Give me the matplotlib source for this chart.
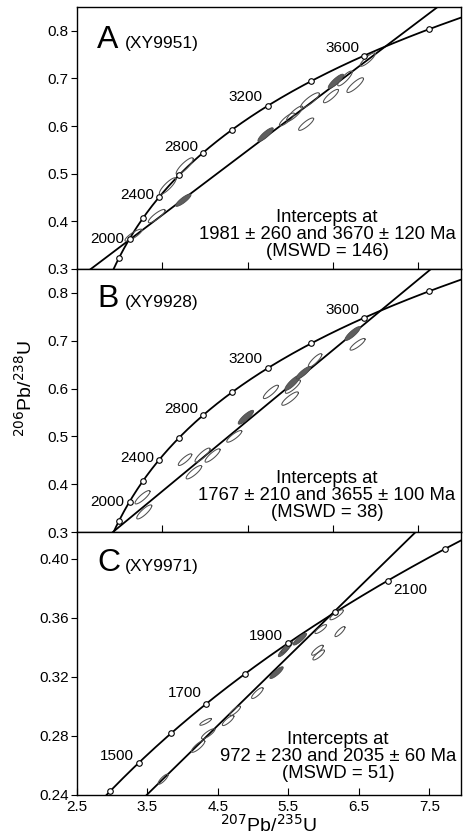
import numpy as np
import matplotlib
matplotlib.use("Agg")
import matplotlib.pyplot as plt

plt.rcParams['font.family'] = ['Liberation Sans', 'DejaVu Sans']

# decay constants (per Ma)
L238 = 1.55125e-4
L235 = 9.8485e-4

# ---------- panel data ----------
names = ["A", "B", "C"]
samples = ["(XY9951)", "(XY9928)", "(XY9971)"]
intercept_txt = ["Intercepts at\n1981 \u00b1 260 and 3670 \u00b1 120 Ma\n(MSWD = 146)",
                 "Intercepts at\n1767 \u00b1 210 and 3655 \u00b1 100 Ma\n(MSWD = 38)",
                 "Intercepts at\n972 \u00b1 230 and 2035 \u00b1 60 Ma\n(MSWD = 51)"]
# discordia as drawn (lower, upper intercept age, Ma)
disc_ages = [(1981, 3670), (1700, 3655), (815, 1990)]

# concordia age marks and labelled ages
marks_ab = [1800, 2000, 2200, 2400, 2600, 2800, 3000, 3200, 3400, 3600, 3800]
labels_ab = [2000, 2400, 2800, 3200, 3600]
marks_c = [1400, 1500, 1600, 1700, 1800, 1900, 2000, 2100, 2200]
labels_c = [1500, 1700, 1900, 2100]

# ellipses: 207Pb/235U, 206Pb/238U, half extents, rho, filled
a_x = [6.62, 9.34, 12.46, 10.63, 12.62, 22.1, 24.6, 25.5, 27.3, 26.85, 30.34, 31.4, 29.76, 32.6, 34.06]
a_y = [0.371, 0.411, 0.4445, 0.474, 0.516, 0.582, 0.614, 0.626, 0.654, 0.604, 0.694, 0.700, 0.663, 0.686, 0.7396]
a_sx = [1.0, 0.98, 0.9, 0.98, 1.0, 0.9, 0.88, 0.95, 1.1, 0.88, 0.9, 0.85, 0.88, 0.97, 0.88]
a_sy = [0.0126, 0.014, 0.013, 0.0175, 0.0175, 0.0145, 0.0135, 0.016, 0.016, 0.013, 0.015, 0.0155, 0.014, 0.0155, 0.014]
a_rho = [0.86, 0.86, 0.86, 0.86, 0.86, 0.86, 0.86, 0.86, 0.86, 0.86, 0.86, 0.86, 0.86, 0.86, 0.86]
a_fill = [0, 0, 1, 0, 0, 1, 0, 0, 0, 0, 1, 0, 0, 0, 0]

b_x = [7.68, 7.88, 12.66, 13.7, 14.71, 15.89, 18.43, 19.79, 22.72, 25.26, 26.53, 25.3, 24.97, 27.9, 32.3, 32.88]
b_y = [0.3727, 0.342, 0.4513, 0.425, 0.4608, 0.46, 0.50, 0.540, 0.593, 0.612, 0.633, 0.604, 0.579, 0.659, 0.715, 0.6925]
b_sx = [0.88, 0.88, 0.79, 0.91, 0.88, 0.88, 0.88, 0.9, 0.88, 0.9, 0.85, 0.88, 0.97, 0.79, 0.9, 0.88]
b_sy = [0.014, 0.0147, 0.0122, 0.014, 0.0147, 0.014, 0.0122, 0.0145, 0.014, 0.0157, 0.013, 0.014, 0.014, 0.014, 0.0145, 0.0122]
b_rho = [0.86, 0.86, 0.86, 0.86, 0.86, 0.86, 0.86, 0.86, 0.86, 0.86, 0.86, 0.86, 0.86, 0.86, 0.86, 0.86]
b_fill = [0, 0, 0, 0, 0, 0, 0, 1, 0, 1, 1, 0, 0, 0, 1, 0]

c_x = [3.722, 4.219, 4.361, 4.325, 4.645, 4.744, 5.060, 5.332, 5.439, 5.48, 5.663, 5.912, 5.93, 5.959, 6.232, 6.185]
c_y = [0.2507, 0.2729, 0.2814, 0.2895, 0.2904, 0.297, 0.309, 0.3228, 0.3376, 0.340, 0.3455, 0.338, 0.3348, 0.3523, 0.3506, 0.362]
c_sx = [0.071, 0.095, 0.095, 0.082, 0.082, 0.076, 0.082, 0.095, 0.082, 0.082, 0.095, 0.082, 0.082, 0.082, 0.071, 0.095]
c_sy = [0.0034, 0.0040, 0.0034, 0.0023, 0.0034, 0.0032, 0.0037, 0.0040, 0.0040, 0.0040, 0.0040, 0.0034, 0.0034, 0.0030, 0.0034, 0.0034]
c_rho = [0.84, 0.84, 0.84, 0.84, 0.84, 0.84, 0.84, 0.86, 0.86, 0.86, 0.86, 0.84, 0.84, 0.84, 0.84, 0.84]
c_fill = [0, 0, 0, 0, 0, 0, 0, 1, 1, 1, 1, 0, 0, 0, 0, 0]

ells = [(a_x, a_y, a_sx, a_sy, a_rho, a_fill),
        (b_x, b_y, b_sx, b_sy, b_rho, b_fill),
        (c_x, c_y, c_sx, c_sy, c_rho, c_fill)]


def concordia(t):
    return np.expm1(L235 * np.asarray(t, float)), np.expm1(L238 * np.asarray(t, float))


def ellipse_xy(x, y, sx, sy, rho, n=80):
    th = np.linspace(0, 2 * np.pi, n)
    ex = x + sx * np.cos(th)
    ey = y + sy * (rho * np.cos(th) + np.sqrt(1 - rho ** 2) * np.sin(th))
    return ex, ey


fig = plt.figure(figsize=(4.63, 8.4), dpi=100)
W, H = 463.0, 840.0
left, right = 77 / W, 461 / W
tops = [7, 269, 532]
bots = [269, 532, 795]
axes = []
for i in range(3):
    ax = fig.add_axes([left, 1 - bots[i] / H, right - left, (bots[i] - tops[i]) / H])
    axes.append(ax)

xlims = [(0, 45), (0, 45), (2.5, 7.95)]
ylims = [(0.3, 0.85), (0.3, 0.85), (0.24, 0.418)]
t_ranges = [(1500, 4100), (1500, 4100), (1200, 2300)]

for i, ax in enumerate(axes):
    ax.set_xlim(*xlims[i])
    ax.set_ylim(*ylims[i])
    # concordia
    tt = np.linspace(t_ranges[i][0], t_ranges[i][1], 400)
    cx, cy = concordia(tt)
    ax.plot(cx, cy, color="black", lw=1.3, zorder=3)
    mk = marks_ab if i < 2 else marks_c
    mx, my = concordia(mk)
    ax.plot(mx, my, "o", ms=4, mfc="white", mec="black", mew=0.8, zorder=6)
    # discordia
    dx, dy = concordia(disc_ages[i])
    slope = (dy[1] - dy[0]) / (dx[1] - dx[0])
    xx = np.array(xlims[i])
    ax.plot(xx, dy[0] + slope * (xx - dx[0]), color="black", lw=1.3, zorder=3)
    # ellipses
    ex_, ey_, sx_, sy_, rh_, fl_ = ells[i]
    for k in range(len(ex_)):
        px, py = ellipse_xy(ex_[k], ey_[k], sx_[k], sy_[k], rh_[k])
        if fl_[k]:
            ax.fill(px, py, facecolor="#5e5e5e", edgecolor="#4a4a4a", lw=0.6, zorder=5)
        else:
            ax.plot(px, py, color="#4f4f4f", lw=0.75, zorder=4)
    # age labels
    labs = labels_ab if i < 2 else labels_c
    for a in labs:
        lx, ly = concordia(a)
        if a == 2100:
            ax.annotate(str(a), (lx, ly), xytext=(5, -9), textcoords="offset pixels",
                        ha="left", va="center", fontsize=11, zorder=7)
        else:
            off = {2000: 0, 2400: 2, 2800: 6, 3200: 9, 3600: 8, 1500: 7, 1700: 11, 1900: 7}[a]
            ax.annotate(str(a), (lx, ly), xytext=(-5, off), textcoords="offset pixels",
                        ha="right", va="center", fontsize=11, zorder=7)
    # titles
    ty = [0.843, 0.856, 0.852][i]
    ax.text(0.052, ty, names[i], transform=ax.transAxes, fontsize=23, va="baseline", ha="left")
    ax.text(0.125, ty, samples[i], transform=ax.transAxes, fontsize=12.5, va="baseline", ha="left")
    tx = [0.651, 0.651, 0.68][i]
    tyy = [0.13, 0.137, 0.145][i]
    ax.text(tx, tyy, intercept_txt[i], transform=ax.transAxes, fontsize=13.3,
            ha="center", va="center", multialignment="center", linespacing=1.0)
    # ticks
    ax.tick_params(axis="y", direction="out", length=4, width=0.8, labelsize=11, pad=2)
    ax.tick_params(axis="x", direction="in", length=5, width=0.8, labelsize=11)
    for s in ax.spines.values():
        s.set_linewidth(1.0)

for ax in axes[:2]:
    ax.set_xticks([10, 20, 30, 40])
    ax.set_xticklabels([])
    ax.set_yticks([0.3, 0.4, 0.5, 0.6, 0.7, 0.8])
    ax.set_yticklabels(["0.3", "0.4", "0.5", "0.6", "0.7", "0.8"])

axes[2].set_xticks([2.5, 3.5, 4.5, 5.5, 6.5, 7.5])
axes[2].set_xticklabels(["2.5", "3.5", "4.5", "5.5", "6.5", "7.5"])
axes[2].set_yticks([0.24, 0.28, 0.32, 0.36, 0.40])
axes[2].set_yticklabels(["0.24", "0.28", "0.32", "0.36", "0.40"])
axes[2].set_xlabel(r"$^{207}$Pb/$^{235}$U", fontsize=14, labelpad=0)

fig.text(25 / W, 1 - 388 / H, r"$^{206}$Pb/$^{238}$U", rotation=90, fontsize=14,
         ha="center", va="center")

fig.savefig("out.png", dpi=100)
